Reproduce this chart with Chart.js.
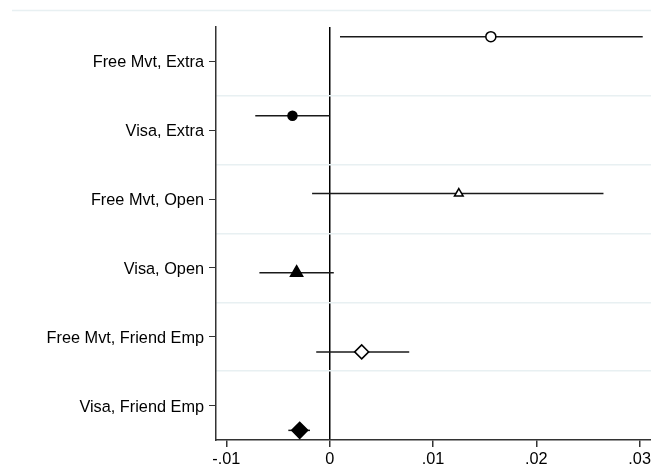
<!DOCTYPE html>
<html>
<head>
<meta charset="utf-8">
<script src="https://cdn.jsdelivr.net/npm/chart.js@4/dist/chart.umd.min.js"></script>
<style>
  html, body { margin: 0; padding: 0; background: #fff; }
  #wrap { width: 651px; height: 466px; }
</style>
</head>
<body>
<div id="wrap"><canvas id="coefplot"></canvas></div>
<script>
// coefficients and 95% CIs
const rows = ['Free Mvt, Extra', 'Visa, Extra', 'Free Mvt, Open', 'Visa, Open', 'Free Mvt, Friend Emp', 'Visa, Friend Emp'];
const estimates = [0.0156, -0.0036, 0.0125, -0.0032, 0.0031, -0.0029];
const ciLow = [0.0010, -0.0072, -0.0017, -0.0068, -0.0013, -0.0040];
const ciHigh = [0.0303, 0.0000, 0.0265, 0.0004, 0.0077, -0.0019];
// vertical position of each estimate (row units, label rows are 0..5)
const rowPos = [-0.36, 0.79, 1.92, 3.07, 4.22, 5.36];
const xTicks = [-0.01, 0, 0.01, 0.02, 0.03];
const xTickLabels = ['-.01', '0', '.01', '.02', '.03'];
const gridPos = [0.5, 1.5, 2.5, 3.5, 4.5];

// marker look per row
const markers = [
  { style: 'circle', r: 5, fill: '#fff' },
  { style: 'circle', r: 4.5, fill: '#000' },
  { style: 'triangle', r: 5, fill: '#fff' },
  { style: 'triangle', r: 7, fill: '#000' },
  { style: 'rectRot', r: 7, fill: '#fff' },
  { style: 'rectRot', r: 8, fill: '#000' }
];

const datasets = rows.map(function (name, i) {
  const m = markers[i];
  return {
    label: name,
    data: [
      { x: ciLow[i], y: rowPos[i] },
      { x: estimates[i], y: rowPos[i] },
      { x: ciHigh[i], y: rowPos[i] }
    ],
    borderColor: '#1a1a1a',
    borderWidth: 1.5,
    pointRadius: [0, m.r, 0],
    pointStyle: m.style,
    pointBackgroundColor: m.fill,
    pointBorderColor: '#000',
    pointBorderWidth: 1.5
  };
});

// thin line at the very top of the graph region
const topLine = {
  id: 'topLine',
  beforeDraw: function (chart) {
    const c = chart.ctx;
    c.save();
    c.strokeStyle = '#e8f0f2';
    c.lineWidth = 1.5;
    c.beginPath();
    c.moveTo(12, 10.5);
    c.lineTo(chart.width, 10.5);
    c.stroke();
    c.restore();
  }
};

const font = { family: '"Liberation Sans", Arial, sans-serif', size: 16.3 };

new Chart(document.getElementById('coefplot'), {
  type: 'line',
  data: { datasets: datasets },
  plugins: [topLine],
  options: {
    responsive: true,
    maintainAspectRatio: false,
    animation: false,
    layout: { padding: { top: 27, right: 0, left: 0, bottom: 0 } },
    plugins: { legend: { display: false }, tooltip: { enabled: false } },
    scales: {
      x: {
        type: 'linear',
        min: -0.011,
        max: 0.0311,
        afterBuildTicks: function (s) { s.ticks = xTicks.map(v => ({ value: v })); },
        afterFit: function (s) { s.height = 26; s.paddingRight = 0; s.paddingLeft = 0; },
        ticks: {
          color: '#000',
          font: font,
          padding: 3,
          maxRotation: 0,
          autoSkip: false,
          callback: function (v) { return xTickLabels[xTicks.indexOf(v)]; }
        },
        grid: {
          color: function (ctx) { return ctx.tick && ctx.tick.value === 0 ? '#000' : 'rgba(0,0,0,0)'; },
          lineWidth: 1.5,
          tickColor: '#333',
          tickLength: 7
        },
        border: { color: '#333', width: 1.5 }
      },
      y: {
        type: 'linear',
        position: 'left',
        reverse: true,
        min: -0.5,
        max: 5.5,
        afterBuildTicks: function (s) { s.ticks = rows.map((r, i) => ({ value: i })); },
        afterFit: function (s) { s.width = 216; },
        ticks: {
          color: '#000',
          font: font,
          padding: 5,
          labelOffset: 1.5,
          autoSkip: false,
          callback: function (v) { return rows[v]; }
        },
        grid: { drawOnChartArea: false, tickColor: '#333', tickLength: 7 },
        border: { color: '#333', width: 1.5 }
      },
      yGrid: {
        type: 'linear',
        position: 'right',
        reverse: true,
        min: -0.5,
        max: 5.5,
        afterBuildTicks: function (s) { s.ticks = gridPos.map(v => ({ value: v })); },
        afterFit: function (s) { s.width = 0; },
        ticks: { display: false },
        grid: { color: '#e8f0f2', lineWidth: 1.5, drawTicks: false },
        border: { display: false }
      }
    }
  }
});
</script>
</body>
</html>
